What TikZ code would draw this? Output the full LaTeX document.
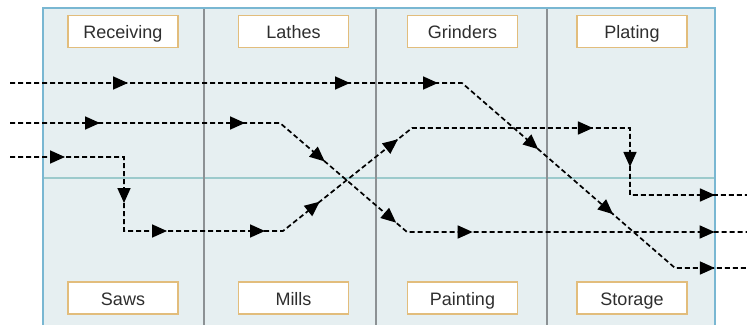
\documentclass[tikz,border=0pt]{standalone}
\usepackage{fontspec}
\setmainfont{Liberation Sans}
\usetikzlibrary{arrows.meta,decorations.markings}
\definecolor{bgfill}{HTML}{E6EFF1}
\definecolor{outeredge}{HTML}{79B7D2}
\definecolor{hdiv}{HTML}{9CCACC}
\definecolor{vdiv}{HTML}{8C9194}
\definecolor{boxedge}{HTML}{E2BD7C}
\definecolor{textgray}{HTML}{2E2E2E}
\newcommand\fltip{\arrow{Triangle[length=15pt,width=13pt]}}
\begin{document}
\begin{tikzpicture}[x=1pt,y=-1pt,
  labelbox/.style={draw=boxedge, line width=1.5pt, fill=white, minimum width=110pt,
    minimum height=32pt, inner sep=0pt, text height=14pt, text depth=0pt,
    font=\fontsize{18}{20}\selectfont, text=textgray},
  flow/.style={draw=black, line width=1.7pt, dash pattern=on 5pt off 3pt},
  divv/.style={draw=vdiv, line width=1.2pt},
  divh/.style={draw=hdiv, line width=1.5pt}]
\useasboundingbox (0,0) rectangle (747,324);
% background panel
\fill[bgfill] (43,8) rectangle (715,330);
\draw[divh] (43,178) -- (715,178);
\draw[divv] (204,8) -- (204,330);
\draw[divv] (376,8) -- (376,330);
\draw[divv] (547,8) -- (547,330);
\draw[outeredge, line width=2pt] (43,330) -- (43,8) -- (715,8) -- (715,330);
% stations
\node[labelbox] (rec) at (123,31.5) {Receiving};
\node[labelbox] (lat) at (293.5,31.5) {Lathes};
\node[labelbox] (gri) at (462.5,31.5) {Grinders};
\node[labelbox] (pla) at (632,31.5) {Plating};
\node[labelbox] (saw) at (123,298) {Saws};
\node[labelbox] (mil) at (293.5,298) {Mills};
\node[labelbox] (pai) at (462.5,298) {Painting};
\node[labelbox] (sto) at (632,298) {Storage};
% path points
\coordinate (a0) at (10,83);  \coordinate (a1) at (462,83);
\coordinate (a2) at (675,268); \coordinate (a3) at (747,268);
\coordinate (b0) at (10,123); \coordinate (b1) at (280,123);
\coordinate (b2) at (407,232); \coordinate (b3) at (747,232);
\coordinate (c0) at (10,157); \coordinate (c1) at (124,157);
\coordinate (c2) at (124,231); \coordinate (c3) at (283,231);
\coordinate (c4) at (412,128); \coordinate (c5) at (630,128);
\coordinate (c6) at (630,195); \coordinate (c7) at (747,195);
% flows
\draw[flow, postaction={decorate, decoration={markings,
   mark=at position 118pt with {\fltip},
   mark=at position 340pt with {\fltip},
   mark=at position 428pt with {\fltip},
   mark=at position 553pt with {\fltip},
   mark=at position 652pt with {\fltip},
   mark=at position 774pt with {\fltip}}}]
  (a0) -- (a1) -- (a2) -- (a3);
\draw[flow, postaction={decorate, decoration={markings,
   mark=at position 90pt with {\fltip},
   mark=at position 235pt with {\fltip},
   mark=at position 329pt with {\fltip},
   mark=at position 423pt with {\fltip},
   mark=at position 503pt with {\fltip},
   mark=at position 745pt with {\fltip}}}]
  (b0) -- (b1) -- (b2) -- (b3);
\draw[flow, postaction={decorate, decoration={markings,
   mark=at position 55pt with {\fltip},
   mark=at position 160pt with {\fltip},
   mark=at position 231pt with {\fltip},
   mark=at position 329pt with {\fltip},
   mark=at position 394pt with {\fltip},
   mark=at position 494pt with {\fltip},
   mark=at position 693pt with {\fltip},
   mark=at position 769pt with {\fltip},
   mark=at position 882pt with {\fltip}}}]
  (c0) -- (c1) -- (c2) -- (c3) -- (c4) -- (c5) -- (c6) -- (c7);
\end{tikzpicture}
\end{document}
